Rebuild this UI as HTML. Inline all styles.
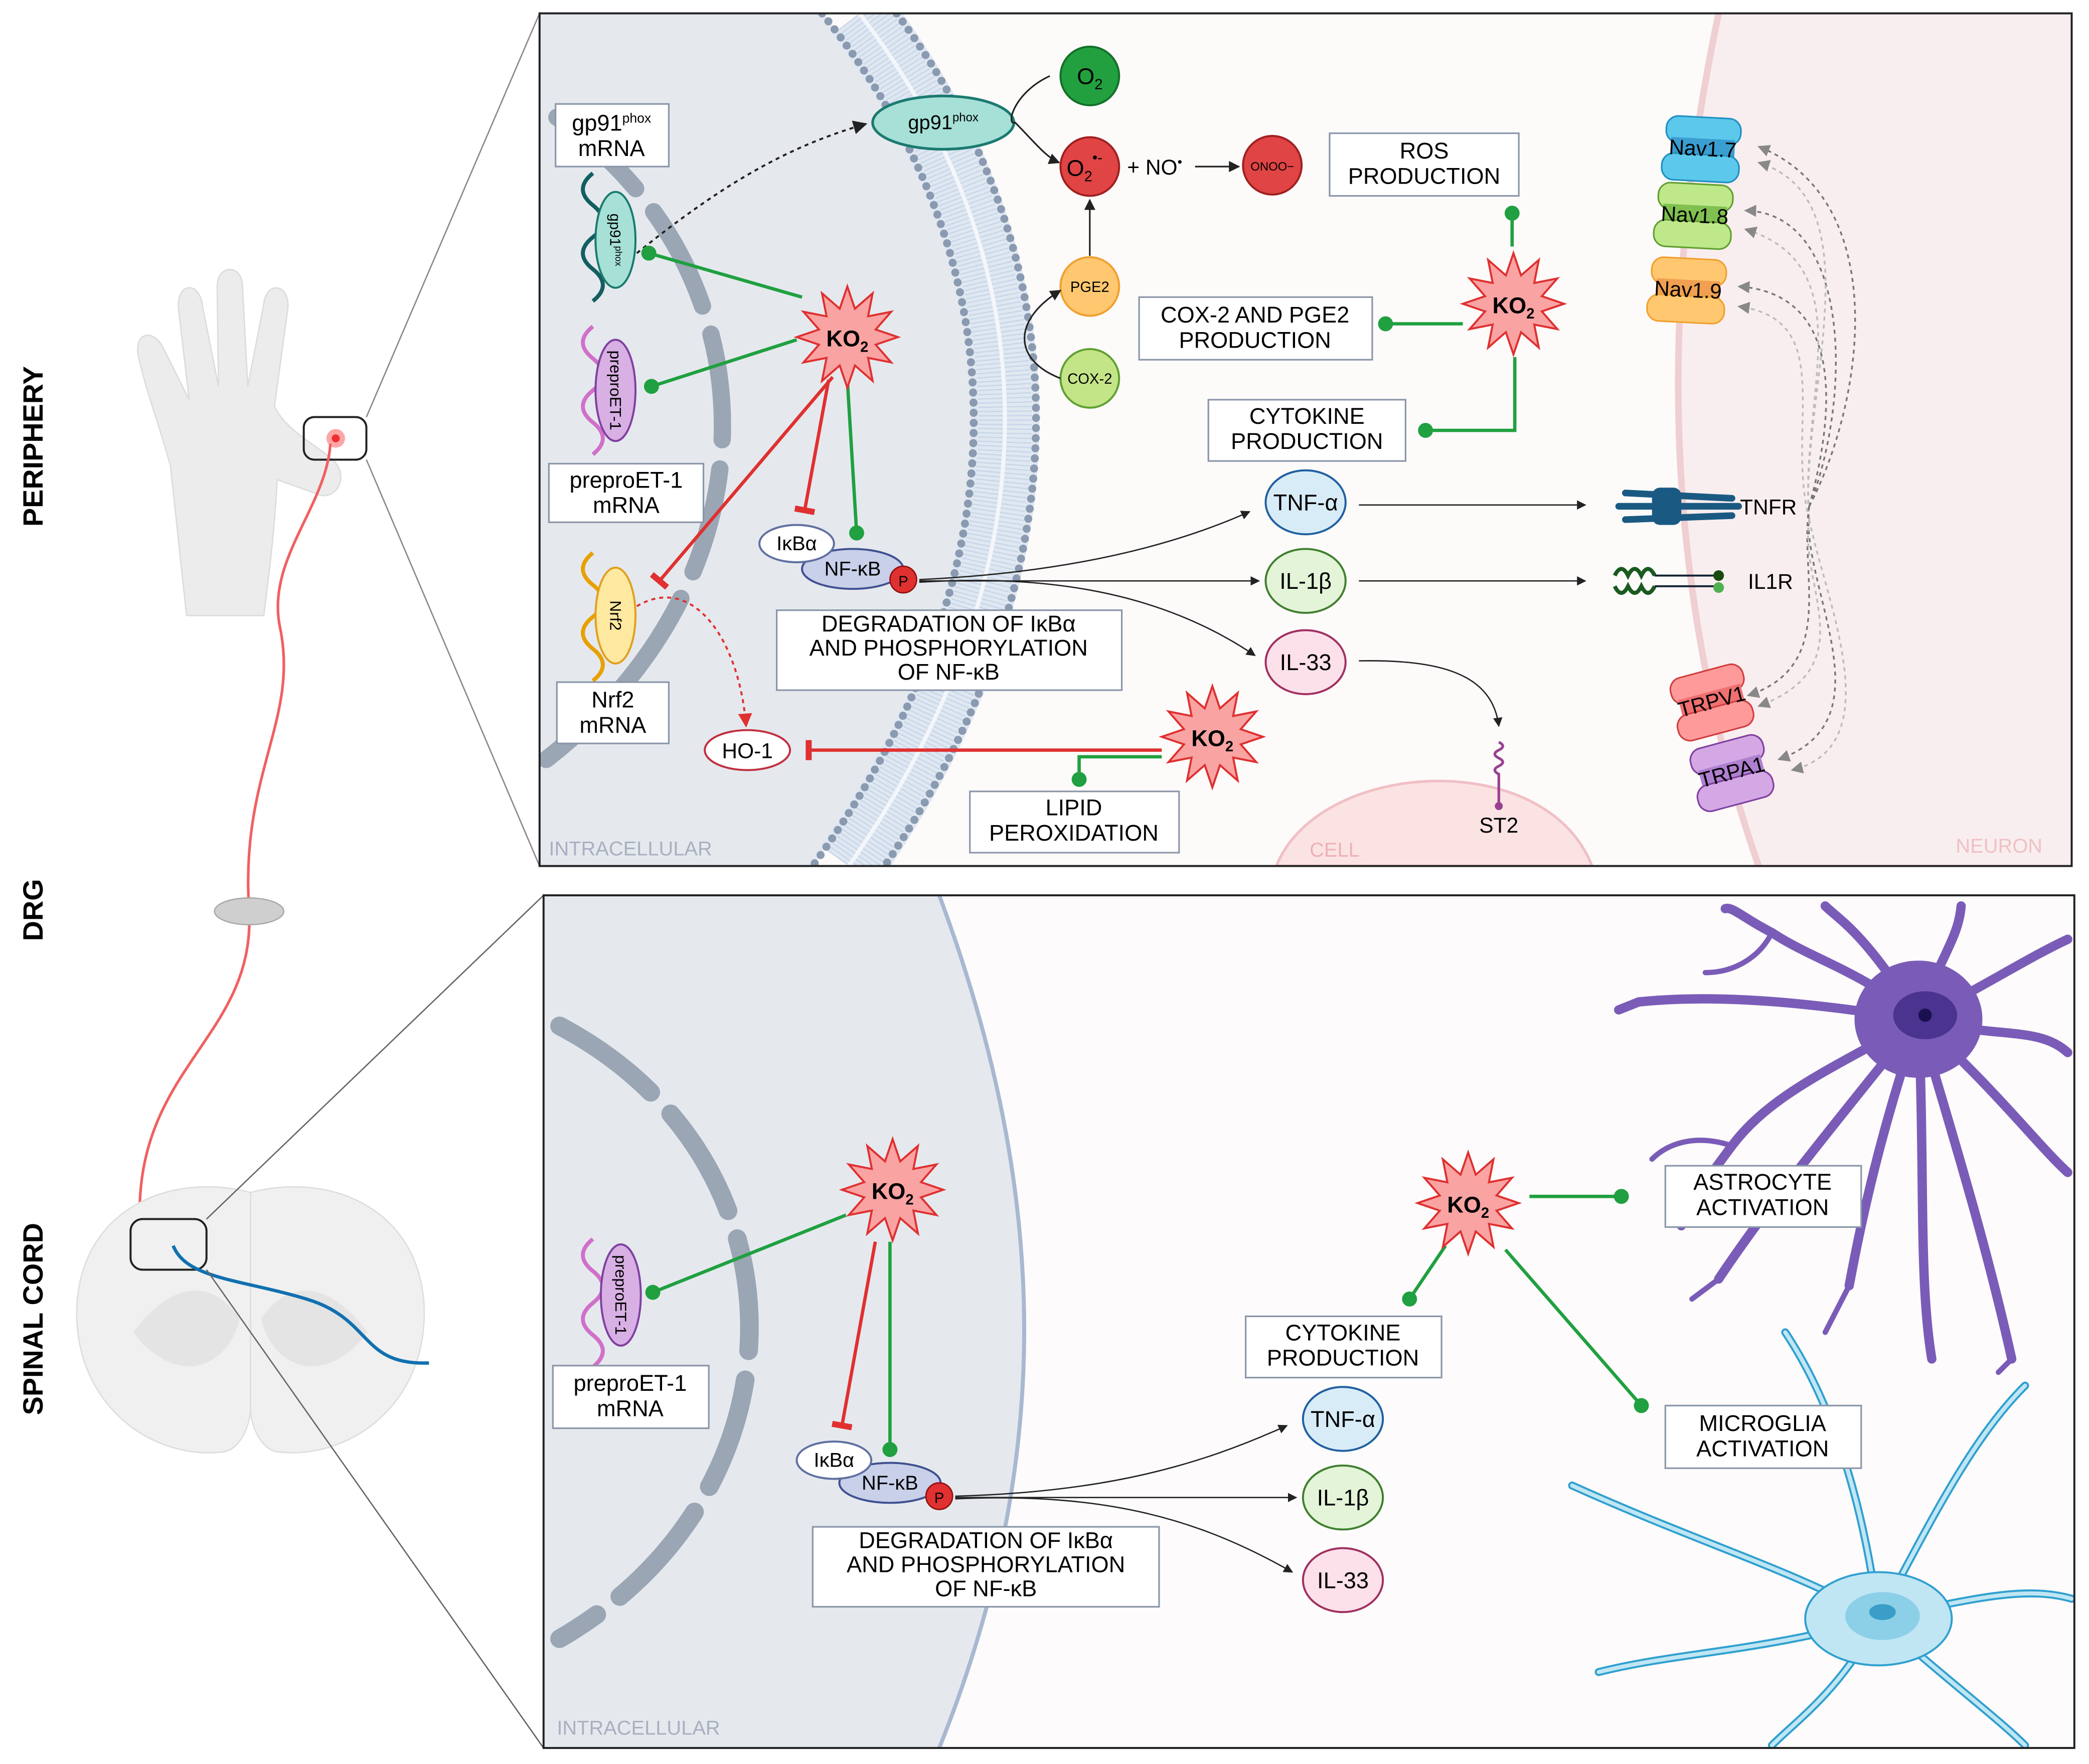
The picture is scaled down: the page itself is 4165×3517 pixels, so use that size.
<!DOCTYPE html>
<html><head><meta charset="utf-8"><style>
html,body{margin:0;padding:0;background:#fff}
svg{display:block}
text{font-family:"Liberation Sans",sans-serif}
</style></head><body>
<svg width="4165" height="3517" viewBox="0 0 1568 1324" xmlns="http://www.w3.org/2000/svg">
<defs>
<clipPath id="topclip"><rect x="405" y="10" width="1150" height="640"/></clipPath>
<clipPath id="botclip"><rect x="408" y="672" width="1149" height="640"/></clipPath>
<polygon id="star" points="0,-38 5.7,-21.3 19,-32.9 15.6,-15.6 32.9,-19 21.3,-5.7 38,0 21.3,5.7 32.9,19 15.6,15.6 19,32.9 5.7,21.3 0,38 -5.7,21.3 -19,32.9 -15.6,15.6 -32.9,19 -21.3,5.7 -38,0 -21.3,-5.7 -32.9,-19 -15.6,-15.6 -19,-32.9 -5.7,-21.3" fill="#f9a3a3" stroke="#e03030" stroke-width="1.5"/>
<marker id="ah" viewBox="0 0 10 10" refX="9" refY="5" markerWidth="7" markerHeight="7" orient="auto"><path d="M0,0L10,5L0,10z" fill="#222"/></marker>
<marker id="ahr" viewBox="0 0 10 10" refX="9" refY="5" markerWidth="7" markerHeight="7" orient="auto"><path d="M0,0L10,5L0,10z" fill="#e03030"/></marker>
<marker id="ahg" viewBox="0 0 10 10" refX="9" refY="5" markerWidth="7" markerHeight="7" orient="auto"><path d="M0,0L10,5L0,10z" fill="#888"/></marker>
<marker id="dot" viewBox="0 0 10 10" refX="5" refY="5" markerWidth="4.5" markerHeight="4.5"><circle cx="5" cy="5" r="5" fill="#20a040"/></marker>
<marker id="bar" viewBox="0 0 10 10" refX="5" refY="5" markerWidth="6" markerHeight="12" orient="auto"><path d="M5,0V10" stroke="#e03030" stroke-width="3"/></marker>
</defs>
<rect width="1568" height="1324" fill="#fff"/>

<text transform="translate(32,335) rotate(-90)" text-anchor="middle" font-size="21" font-weight="bold">PERIPHERY</text>
<text transform="translate(32,683) rotate(-90)" text-anchor="middle" font-size="21" font-weight="bold">DRG</text>
<text transform="translate(32,990) rotate(-90)" text-anchor="middle" font-size="21" font-weight="bold">SPINAL CORD</text>

<g fill="#ececec" stroke="#dcdcdc">
<path d="M140,462 L128,350 C120,320 110,295 104,268 C100,250 114,246 122,260 L142,300 L134,232 C132,212 150,210 152,230 L164,290 L163,215 C163,198 182,198 182,215 L186,290 L198,228 C200,210 218,213 216,232 L206,305 C214,322 234,332 250,345 C264,360 250,378 236,370 L208,360 C206,400 202,430 198,462 Z"/>
</g>
<rect x="228" y="313" width="47" height="32" rx="8" fill="none" stroke="#222" stroke-width="1.5"/>
<circle cx="252" cy="329" r="7" fill="#ff8080" opacity="0.7"/><circle cx="252" cy="329" r="3" fill="#f03030"/>
<line x1="275" y1="313" x2="405" y2="10" stroke="#888" stroke-width="1"/>
<line x1="275" y1="345" x2="405" y2="650" stroke="#888" stroke-width="1"/>
<path d="M248,333 C245,380 200,420 210,470 C225,540 180,580 187,683 C192,780 100,800 105,920" fill="none" stroke="#f06060" stroke-width="2"/>
<ellipse cx="187" cy="684" rx="26" ry="10" fill="#cfcfcf" stroke="#aaa"/>
<path d="M188,895 C130,880 65,905 58,975 C52,1050 110,1095 165,1090 C178,1090 186,1075 188,1060 C190,1075 198,1090 211,1090 C266,1095 324,1050 318,975 C311,905 246,880 188,895 Z" fill="#f0f0f0" stroke="#ddd"/>
<path d="M188,895 V1060" stroke="#ddd"/>
<path d="M100,1000 C130,960 160,960 180,990 C170,1030 130,1040 100,1000Z M276,1000 C246,960 216,960 196,990 C206,1030 246,1040 276,1000Z" fill="#e4e4e4"/>
<rect x="98" y="915" width="57" height="38" rx="9" fill="none" stroke="#222" stroke-width="1.5"/>
<path d="M130,935 C140,960 180,960 230,975 C280,990 270,1025 322,1023" fill="none" stroke="#1070b0" stroke-width="2.5"/>
<line x1="155" y1="915" x2="408" y2="672" stroke="#666" stroke-width="1"/>
<line x1="155" y1="953" x2="408" y2="1312" stroke="#666" stroke-width="1"/>

<!-- ========== TOP PANEL ========== -->
<g clip-path="url(#topclip)">
<rect x="405" y="10" width="1150" height="640" fill="#fdfafa"/>
<path d="M1290,10 C1250,200 1240,420 1320,650 L1555,650 L1555,10 Z" fill="#f9eeef"/>
<path d="M1290,10 C1250,200 1240,420 1320,650" fill="none" stroke="#efcfd2" stroke-width="5"/>
<path d="M958,650 C990,570 1160,560 1195,650 Z" fill="#fbe3e4" stroke="#f0c0c4" stroke-width="2"/>
<path d="M405,10 L618,10 C770,200 770,430 610,650 L405,650 Z" fill="#e5e9ee"/>
<path d="M645,10 C792,200 792,430 637,650" fill="none" stroke="#dfe7f1" stroke-width="52"/>
<path d="M645,10 C792,200 792,430 637,650" fill="none" stroke="#c4d4e8" stroke-width="40" stroke-dasharray="0.8 2.5"/>
<path d="M645,10 C792,200 792,430 637,650" fill="none" stroke="#f4f6fa" stroke-width="3"/>
<path d="M617,10 C770,200 770,430 610,650" fill="none" stroke="#8a9ab0" stroke-width="6" stroke-dasharray="0.1 7.5" stroke-linecap="round"/>
<path d="M673,10 C814,200 814,430 664,650" fill="none" stroke="#8a9ab0" stroke-width="6" stroke-dasharray="0.1 7.5" stroke-linecap="round"/>
<path d="M418,88 C580,200 590,430 410,570" fill="none" stroke="#9aa6b4" stroke-width="13" stroke-dasharray="80 22" stroke-linecap="round"/>
</g>
<rect x="405" y="10" width="1150" height="640" fill="none" stroke="#222" stroke-width="1.5"/>
<text x="412" y="642" font-size="15" fill="#a8b0c0">INTRACELLULAR</text>
<text x="983" y="643" font-size="15" fill="#eeb0b4">CELL</text>
<text x="1468" y="640" font-size="15" fill="#f0c0c4">NEURON</text>

<path d="M445,130 q-15,12 0,24 q15,12 0,24 q-15,12 0,24 q15,12 0,24" fill="none" stroke="#135e60" stroke-width="3"/>
<ellipse cx="462" cy="180" rx="15" ry="36" fill="#a6e0d6" stroke="#1a7a70" stroke-width="1.5"/>
<text transform="translate(458,180) rotate(90)" text-anchor="middle" font-size="11">gp91<tspan font-size="7" dy="-4">phox</tspan></text>
<path d="M445,245 q-15,12 0,24 q15,12 0,24 q-15,12 0,24 q15,12 0,24" fill="none" stroke="#d070c8" stroke-width="3"/>
<ellipse cx="462" cy="293" rx="15" ry="38" fill="#d8b0e4" stroke="#8040a0" stroke-width="1.5"/>
<text transform="translate(458,293) rotate(90)" text-anchor="middle" font-size="12">preproET-1</text>
<path d="M445,415 q-15,12 0,24 q15,12 0,24 q-15,12 0,24 q15,12 0,24" fill="none" stroke="#e8a000" stroke-width="3"/>
<ellipse cx="462" cy="462" rx="15" ry="36" fill="#ffe8a0" stroke="#e0a020" stroke-width="1.5"/>
<text transform="translate(458,462) rotate(90)" text-anchor="middle" font-size="12">Nrf2</text>

<g fill="#fff" stroke="#8a96a8" stroke-width="1.2">
<rect x="417" y="78" width="85" height="47"/>
<rect x="412" y="348" width="116" height="44"/>
<rect x="418" y="512" width="84" height="46"/>
<rect x="998" y="100" width="142" height="47"/>
<rect x="855" y="223" width="175" height="47"/>
<rect x="907" y="300" width="148" height="46"/>
<rect x="583" y="458" width="259" height="60"/>
<rect x="728" y="594" width="157" height="46"/>
</g>
<g font-size="17" text-anchor="middle">
<text x="459" y="98">gp91<tspan font-size="10" dy="-6">phox</tspan></text><text x="459" y="117">mRNA</text>
<text x="470" y="366">preproET-1</text><text x="470" y="385">mRNA</text>
<text x="460" y="531">Nrf2</text><text x="460" y="550">mRNA</text>
<text x="1069" y="119">ROS</text><text x="1069" y="138">PRODUCTION</text>
<text x="942" y="242">COX-2 AND PGE2</text><text x="942" y="261">PRODUCTION</text>
<text x="981" y="318">CYTOKINE</text><text x="981" y="337">PRODUCTION</text>
<text x="712" y="474">DEGRADATION OF IκBα</text><text x="712" y="492">AND PHOSPHORYLATION</text><text x="712" y="510">OF NF-κB</text>
<text x="806" y="612">LIPID</text><text x="806" y="631">PEROXIDATION</text>
</g>

<path d="M478,190 C540,140 590,110 650,93" fill="none" stroke="#222" stroke-width="1.5" stroke-dasharray="3 3" marker-end="url(#ah)"/>
<ellipse cx="708" cy="92" rx="53" ry="20" fill="#a6e0d6" stroke="#1a7a70" stroke-width="2"/>
<text x="708" y="97" text-anchor="middle" font-size="15">gp91<tspan font-size="9" dy="-6">phox</tspan></text>
<path d="M788,57 C760,70 755,95 762,92 C775,105 785,118 795,122" fill="none" stroke="#222" stroke-width="1.2" marker-end="url(#ah)"/>
<circle cx="818" cy="57" r="22" fill="#22a040" stroke="#137028" stroke-width="1.5"/>
<text x="818" y="63" text-anchor="middle" font-size="17">O<tspan font-size="11" dy="4">2</tspan></text>
<circle cx="818" cy="125" r="22" fill="#e04444" stroke="#a02020" stroke-width="1.5"/>
<text x="814" y="132" text-anchor="middle" font-size="17">O<tspan font-size="11" dy="4">2</tspan><tspan font-size="11" dy="-14">•-</tspan></text>
<text x="846" y="131" font-size="16">+ NO<tspan font-size="10" dy="-6">•</tspan></text>
<line x1="897" y1="125" x2="930" y2="125" stroke="#222" stroke-width="1.2" marker-end="url(#ah)"/>
<circle cx="955" cy="124" r="22" fill="#e04444" stroke="#a02020" stroke-width="1.5"/>
<text x="955" y="128" text-anchor="middle" font-size="9">ONOO−</text>
<circle cx="818" cy="215" r="22" fill="#ffc870" stroke="#f0a030" stroke-width="1.5"/>
<text x="818" y="219" text-anchor="middle" font-size="11">PGE2</text>
<circle cx="818" cy="284" r="22" fill="#c4e488" stroke="#60a030" stroke-width="1.5"/>
<text x="818" y="288" text-anchor="middle" font-size="11">COX-2</text>
<line x1="818" y1="192" x2="818" y2="150" stroke="#222" stroke-width="1.2" marker-end="url(#ah)"/>
<path d="M796,284 C760,270 760,240 796,218" fill="none" stroke="#222" stroke-width="1.2" marker-end="url(#ah)"/>

<g stroke="#20a040" stroke-width="2.5" fill="none">
<line x1="1135" y1="185" x2="1135" y2="160" marker-end="url(#dot)"/>
<line x1="1098" y1="243" x2="1040" y2="243" marker-end="url(#dot)"/>
<path d="M1137,268 V323 H1070" marker-end="url(#dot)"/>
<line x1="602" y1="223" x2="487" y2="190" marker-end="url(#dot)"/>
<line x1="598" y1="255" x2="489" y2="290" marker-end="url(#dot)"/>
<line x1="636" y1="285" x2="643" y2="400" marker-end="url(#dot)"/>
<path d="M872,568 H810 V585" marker-end="url(#dot)"/>
</g>
<g stroke="#e03030" stroke-width="2.5" fill="none">
<line x1="622" y1="285" x2="604" y2="383" marker-end="url(#bar)"/>
<line x1="625" y1="283" x2="495" y2="436" marker-end="url(#bar)"/>
<line x1="872" y1="563" x2="607" y2="563" marker-end="url(#bar)"/>
</g>
<path d="M478,455 C520,430 555,480 560,545" fill="none" stroke="#e03030" stroke-width="1.5" stroke-dasharray="3 3" marker-end="url(#ahr)"/>
<ellipse cx="561" cy="563" rx="32" ry="15" fill="#fff" stroke="#c03040" stroke-width="1.5"/>
<text x="561" y="569" text-anchor="middle" font-size="16">HO-1</text>

<use href="#star" x="636" y="253"/><text x="636" y="260" text-anchor="middle" font-size="17" font-weight="bold">KO<tspan font-size="11" dy="4">2</tspan></text>
<use href="#star" x="1136" y="228"/><text x="1136" y="235" text-anchor="middle" font-size="17" font-weight="bold">KO<tspan font-size="11" dy="4">2</tspan></text>
<use href="#star" x="910" y="553"/><text x="910" y="560" text-anchor="middle" font-size="17" font-weight="bold">KO<tspan font-size="11" dy="4">2</tspan></text>

<ellipse cx="640" cy="427" rx="38" ry="15" fill="#c8d0ea" stroke="#405090" stroke-width="1.5"/>
<ellipse cx="598" cy="408" rx="28" ry="14" fill="#fff" stroke="#6070a0" stroke-width="1.5"/>
<text x="598" y="413" text-anchor="middle" font-size="15">IκBα</text>
<text x="640" y="432" text-anchor="middle" font-size="15">NF-κB</text>
<circle cx="678" cy="435" r="10" fill="#e03030" stroke="#901010"/><text x="678" y="440" text-anchor="middle" font-size="11">P</text>
<g stroke="#222" stroke-width="1" fill="none">
<path d="M690,435 C800,430 880,410 938,384" marker-end="url(#ah)"/>
<path d="M690,436 L945,436" marker-end="url(#ah)"/>
<path d="M690,437 C800,430 880,450 942,492" marker-end="url(#ah)"/>
<line x1="1020" y1="379" x2="1190" y2="379" marker-end="url(#ah)"/>
<line x1="1020" y1="436" x2="1190" y2="436" marker-end="url(#ah)"/>
<path d="M1020,496 C1080,495 1120,505 1125,545" marker-end="url(#ah)"/>
</g>
<ellipse cx="980" cy="377" rx="30" ry="24" fill="#d8ecf8" stroke="#2060a0" stroke-width="1.5"/><text x="980" y="383" text-anchor="middle" font-size="17">TNF-α</text>
<ellipse cx="980" cy="436" rx="30" ry="24" fill="#e4f4d8" stroke="#408030" stroke-width="1.5"/><text x="980" y="442" text-anchor="middle" font-size="17">IL-1β</text>
<ellipse cx="980" cy="497" rx="30" ry="24" fill="#fce0ea" stroke="#a03060" stroke-width="1.5"/><text x="980" y="503" text-anchor="middle" font-size="17">IL-33</text>
<g stroke="#1a5a82" stroke-width="5" stroke-linecap="round">
<line x1="1220" y1="370" x2="1300" y2="374"/><line x1="1215" y1="380" x2="1305" y2="380"/><line x1="1220" y1="390" x2="1300" y2="387"/>
</g>
<g fill="#1a5a82"><rect x="1240" y="366" width="22" height="28" rx="6"/></g>
<text x="1306" y="386" font-size="16">TNFR</text>
<path d="M1212,432 q5,-10 10,0 q5,-10 10,0 q5,-10 10,0 M1212,440 q5,10 10,0 q5,10 10,0 q5,10 10,0" fill="none" stroke="#1a5a20" stroke-width="3"/>
<line x1="1242" y1="432" x2="1288" y2="432" stroke="#123" stroke-width="1.5"/><line x1="1242" y1="440" x2="1288" y2="440" stroke="#123" stroke-width="1.5"/>
<circle cx="1290" cy="432" r="4" fill="#1a4a10"/><circle cx="1290" cy="441" r="4" fill="#50b050"/>
<text x="1312" y="442" font-size="16">IL1R</text>
<path d="M1125,557 q6,3 0,6 q-6,3 0,6 q6,3 0,6 q-6,3 0,6 V605" fill="none" stroke="#9a4090" stroke-width="2"/>
<circle cx="1125" cy="605" r="3" fill="#9a4090"/>
<text x="1125" y="625" text-anchor="middle" font-size="16">ST2</text>
<g stroke-width="1.2">
<g transform="translate(1278,112) rotate(3)"><rect x="-28" y="-24" width="56" height="20" rx="9" fill="#5cc8ec" stroke="#2090c0"/><rect x="-24" y="-8" width="48" height="16" fill="#3a9ed0"/><rect x="-30" y="4" width="58" height="20" rx="9" fill="#5cc8ec" stroke="#2090c0"/><text x="0" y="5" text-anchor="middle" font-size="16">Nav1.7</text></g>
<g transform="translate(1272,162) rotate(3)"><rect x="-28" y="-24" width="56" height="20" rx="9" fill="#bfe88a" stroke="#60a030"/><rect x="-24" y="-8" width="48" height="16" fill="#80c050"/><rect x="-30" y="4" width="58" height="20" rx="9" fill="#bfe88a" stroke="#60a030"/><text x="0" y="5" text-anchor="middle" font-size="16">Nav1.8</text></g>
<g transform="translate(1267,218) rotate(3)"><rect x="-28" y="-24" width="56" height="20" rx="9" fill="#ffc870" stroke="#f0a030"/><rect x="-24" y="-8" width="48" height="16" fill="#f0a050"/><rect x="-30" y="4" width="58" height="20" rx="9" fill="#ffc870" stroke="#f0a030"/><text x="0" y="5" text-anchor="middle" font-size="16">Nav1.9</text></g>
<g transform="translate(1285,527) rotate(-15)"><rect x="-28" y="-24" width="56" height="20" rx="9" fill="#ff9a9a" stroke="#d04040"/><rect x="-24" y="-8" width="48" height="16" fill="#f07070"/><rect x="-30" y="4" width="58" height="20" rx="9" fill="#ff9a9a" stroke="#d04040"/><text x="0" y="5" text-anchor="middle" font-size="16">TRPV1</text></g>
<g transform="translate(1300,580) rotate(-15)"><rect x="-28" y="-24" width="56" height="20" rx="9" fill="#d4a8e4" stroke="#8040a0"/><rect x="-24" y="-8" width="48" height="16" fill="#b080d0"/><rect x="-30" y="4" width="58" height="20" rx="9" fill="#d4a8e4" stroke="#8040a0"/><text x="0" y="5" text-anchor="middle" font-size="16">TRPA1</text></g>
</g>
<g fill="none" stroke-width="1.3" stroke-dasharray="3 3">
<path d="M1358,380 C1400,300 1420,150 1320,110" stroke="#777" marker-end="url(#ahg)"/>
<path d="M1358,380 C1390,300 1390,160 1310,158" stroke="#777" marker-end="url(#ahg)"/>
<path d="M1358,380 C1380,300 1380,220 1305,215" stroke="#777" marker-end="url(#ahg)"/>
<path d="M1358,390 C1350,300 1410,150 1320,122" stroke="#bbb" marker-end="url(#ahg)"/>
<path d="M1358,390 C1350,300 1400,200 1310,172" stroke="#bbb" marker-end="url(#ahg)"/>
<path d="M1358,390 C1340,320 1380,240 1305,230" stroke="#bbb" marker-end="url(#ahg)"/>
<path d="M1358,380 C1350,430 1380,500 1312,522" stroke="#777" marker-end="url(#ahg)"/>
<path d="M1358,380 C1350,440 1420,540 1335,570" stroke="#777" marker-end="url(#ahg)"/>
<path d="M1358,390 C1350,440 1400,500 1320,530" stroke="#bbb" marker-end="url(#ahg)"/>
<path d="M1358,390 C1370,450 1420,560 1345,578" stroke="#bbb" marker-end="url(#ahg)"/>
</g>

<!-- ========== BOTTOM PANEL ========== -->
<g clip-path="url(#botclip)">
<rect x="408" y="672" width="1149" height="640" fill="#fdfbfb"/>
<path d="M408,672 L705,672 C790,900 790,1100 705,1312 L408,1312 Z" fill="#e5e9ee"/>
<path d="M705,672 C790,900 790,1100 705,1312" fill="none" stroke="#a8b8d0" stroke-width="3"/>
<path d="M420,770 C610,870 610,1120 420,1230" fill="none" stroke="#9aa6b4" stroke-width="14" stroke-dasharray="85 22" stroke-linecap="round"/>

<g fill="none" stroke="#7a5cb8" stroke-linecap="round" stroke-width="7">
<path d="M1440,765 C1400,730 1360,720 1330,700 C1310,690 1300,680 1295,682"/><path d="M1440,765 C1455,720 1470,705 1472,680"/>
<path d="M1440,765 C1490,740 1520,720 1552,705"/><path d="M1440,765 C1370,755 1300,745 1230,752 L1215,758"/>
<path d="M1440,765 C1380,800 1330,820 1300,860 C1285,880 1270,900 1262,920"/><path d="M1440,765 C1415,840 1400,900 1388,965"/>
<path d="M1440,765 C1465,850 1490,930 1510,1020"/><path d="M1440,765 C1500,820 1530,860 1552,880"/>
<path d="M1440,765 C1380,840 1330,900 1290,960"/><path d="M1440,765 C1445,880 1440,960 1450,1020"/>
<path d="M1440,765 C1500,780 1530,770 1552,790"/><path d="M1440,765 C1400,700 1380,690 1370,680"/>
</g>
<g fill="none" stroke="#7a5cb8" stroke-linecap="round" stroke-width="4">
<path d="M1300,860 C1270,850 1250,860 1240,870"/><path d="M1330,700 C1320,720 1300,730 1280,730"/><path d="M1388,965 L1370,1000"/><path d="M1510,1020 L1500,1030"/><path d="M1290,960 L1270,975"/>
</g>
<ellipse cx="1440" cy="765" rx="48" ry="44" fill="#7a5cb8"/>
<ellipse cx="1445" cy="762" rx="24" ry="18" fill="#4a3490"/><circle cx="1445" cy="762" r="5" fill="#1a1050"/>
<g fill="none" stroke="#30a0d0" stroke-width="6" stroke-linecap="round">
<path d="M1410,1215 C1350,1180 1280,1160 1180,1115"/><path d="M1410,1215 C1400,1140 1380,1060 1340,1000"/>
<path d="M1410,1215 C1450,1140 1480,1080 1520,1040"/><path d="M1410,1215 C1480,1200 1520,1190 1555,1200"/>
<path d="M1410,1215 C1320,1240 1260,1240 1200,1255"/><path d="M1410,1215 C1380,1270 1350,1290 1330,1310"/>
<path d="M1410,1215 C1460,1260 1500,1290 1520,1310"/>
</g>
<g fill="none" stroke="#c0e6f4" stroke-width="3" stroke-linecap="round">
<path d="M1410,1215 C1350,1180 1280,1160 1180,1115"/><path d="M1410,1215 C1400,1140 1380,1060 1340,1000"/>
<path d="M1410,1215 C1450,1140 1480,1080 1520,1040"/><path d="M1410,1215 C1480,1200 1520,1190 1555,1200"/>
<path d="M1410,1215 C1320,1240 1260,1240 1200,1255"/><path d="M1410,1215 C1380,1270 1350,1290 1330,1310"/>
<path d="M1410,1215 C1460,1260 1500,1290 1520,1310"/>
</g>
<ellipse cx="1410" cy="1215" rx="55" ry="35" fill="#c0e6f4" stroke="#30a0d0" stroke-width="1.5"/>
<ellipse cx="1413" cy="1213" rx="28" ry="18" fill="#8cd0e8"/><ellipse cx="1413" cy="1210" rx="10" ry="6" fill="#3a9ec8"/>
</g>
<rect x="408" y="672" width="1149" height="640" fill="none" stroke="#222" stroke-width="1.5"/>
<text x="418" y="1302" font-size="15" fill="#a8b0c0">INTRACELLULAR</text>

<path d="M445,930 q-15,12 0,24 q15,12 0,24 q-15,12 0,24 q15,12 0,24" fill="none" stroke="#d070c8" stroke-width="3"/>
<ellipse cx="466" cy="972" rx="15" ry="38" fill="#d8b0e4" stroke="#8040a0" stroke-width="1.5"/>
<text transform="translate(462,972) rotate(90)" text-anchor="middle" font-size="12">preproET-1</text>
<g fill="#fff" stroke="#8a96a8" stroke-width="1.2">
<rect x="415" y="1025" width="117" height="47"/>
<rect x="610" y="1146" width="260" height="60"/>
<rect x="935" y="988" width="147" height="46"/>
<rect x="1250" y="875" width="147" height="46"/>
<rect x="1250" y="1055" width="147" height="47"/>
</g>
<g font-size="17" text-anchor="middle">
<text x="473" y="1044">preproET-1</text><text x="473" y="1063">mRNA</text>
<text x="740" y="1162">DEGRADATION OF IκBα</text><text x="740" y="1180">AND PHOSPHORYLATION</text><text x="740" y="1198">OF NF-κB</text>
<text x="1008" y="1006">CYTOKINE</text><text x="1008" y="1025">PRODUCTION</text>
<text x="1323" y="893">ASTROCYTE</text><text x="1323" y="912">ACTIVATION</text>
<text x="1323" y="1074">MICROGLIA</text><text x="1323" y="1093">ACTIVATION</text>
</g>
<g stroke="#20a040" stroke-width="2.5" fill="none">
<line x1="635" y1="912" x2="490" y2="970" marker-end="url(#dot)"/>
<line x1="668" y1="932" x2="668" y2="1088" marker-end="url(#dot)"/>
<line x1="1148" y1="898" x2="1217" y2="898" marker-end="url(#dot)"/>
<line x1="1085" y1="935" x2="1058" y2="975" marker-end="url(#dot)"/>
<line x1="1130" y1="938" x2="1232" y2="1055" marker-end="url(#dot)"/>
</g>
<line x1="657" y1="932" x2="632" y2="1070" stroke="#e03030" stroke-width="2.5" marker-end="url(#bar)"/>
<use href="#star" x="670" y="893"/><text x="670" y="900" text-anchor="middle" font-size="17" font-weight="bold">KO<tspan font-size="11" dy="4">2</tspan></text>
<use href="#star" x="1102" y="903"/><text x="1102" y="910" text-anchor="middle" font-size="17" font-weight="bold">KO<tspan font-size="11" dy="4">2</tspan></text>
<ellipse cx="668" cy="1113" rx="38" ry="15" fill="#c8d0ea" stroke="#405090" stroke-width="1.5"/>
<ellipse cx="626" cy="1096" rx="28" ry="14" fill="#fff" stroke="#6070a0" stroke-width="1.5"/>
<text x="626" y="1101" text-anchor="middle" font-size="15">IκBα</text>
<text x="668" y="1118" text-anchor="middle" font-size="15">NF-κB</text>
<circle cx="705" cy="1123" r="10" fill="#e03030" stroke="#901010"/><text x="705" y="1128" text-anchor="middle" font-size="11">P</text>
<g stroke="#222" stroke-width="1" fill="none">
<path d="M717,1123 C830,1120 900,1100 966,1070" marker-end="url(#ah)"/>
<path d="M717,1124 L973,1124" marker-end="url(#ah)"/>
<path d="M717,1125 C830,1120 900,1140 970,1180" marker-end="url(#ah)"/>
</g>
<ellipse cx="1008" cy="1065" rx="30" ry="24" fill="#d8ecf8" stroke="#2060a0" stroke-width="1.5"/><text x="1008" y="1071" text-anchor="middle" font-size="17">TNF-α</text>
<ellipse cx="1008" cy="1124" rx="30" ry="24" fill="#e4f4d8" stroke="#408030" stroke-width="1.5"/><text x="1008" y="1130" text-anchor="middle" font-size="17">IL-1β</text>
<ellipse cx="1008" cy="1186" rx="30" ry="24" fill="#fce0ea" stroke="#a03060" stroke-width="1.5"/><text x="1008" y="1192" text-anchor="middle" font-size="17">IL-33</text>
</svg>
</body></html>
